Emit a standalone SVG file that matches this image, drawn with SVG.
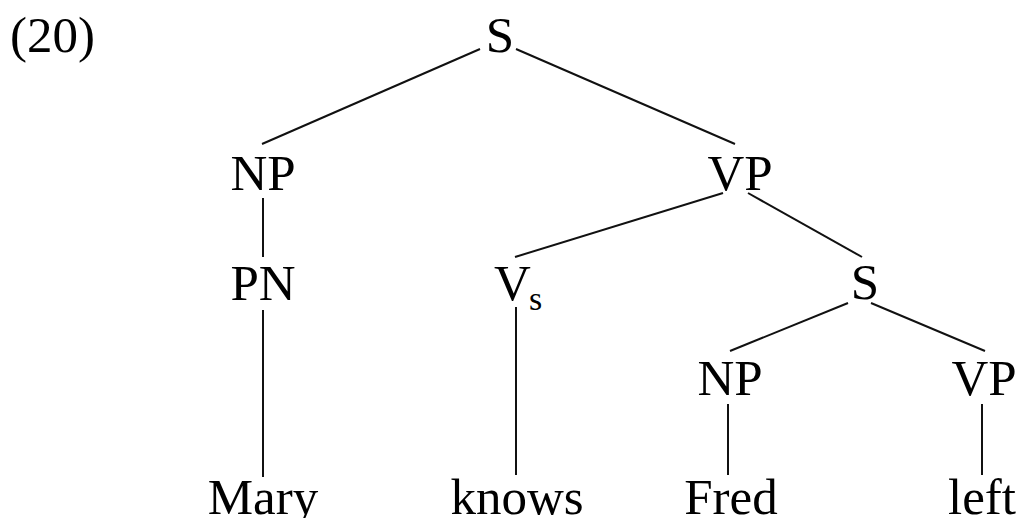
<svg xmlns="http://www.w3.org/2000/svg" width="1019" height="518" viewBox="0 0 1019 518">
<style>
text{font-family:"Liberation Serif","Times New Roman",serif;font-size:51px;fill:#000;text-anchor:middle}
.sub{font-size:34px}
.e line{stroke:#111;stroke-width:2;stroke-linecap:butt}
</style>
<rect width="1019" height="518" fill="#fff"/>
<g class="e" id="connectors">
<line x1="480" y1="49" x2="262" y2="144"/>
<line x1="516" y1="49" x2="735" y2="144"/>
<line x1="263" y1="198" x2="263" y2="257"/>
<line x1="263" y1="310" x2="263" y2="477"/>
<line x1="723" y1="193" x2="515" y2="257"/>
<line x1="748" y1="193" x2="862" y2="257"/>
<line x1="516" y1="307" x2="516" y2="475"/>
<line x1="848" y1="303" x2="730" y2="351"/>
<line x1="871" y1="303" x2="985" y2="351"/>
<line x1="728" y1="404" x2="728" y2="475"/>
<line x1="982" y1="404" x2="982" y2="475"/>
</g>
<g id="label20"><text x="10" y="52" style="text-anchor:start">(20)</text></g>
<g id="S1"><text x="500" y="52">S</text></g>
<g id="NP1"><text x="263" y="190">NP</text></g>
<g id="VP1"><text x="740" y="190">VP</text></g>
<g id="PN"><text x="263" y="300">PN</text></g>
<g id="Vs"><text x="494" y="300" style="text-anchor:start">V</text><text class="sub" x="529" y="310" style="text-anchor:start">s</text></g>
<g id="S2"><text x="865" y="299">S</text></g>
<g id="NP2"><text x="730" y="395">NP</text></g>
<g id="VP2"><text x="984" y="395">VP</text></g>
<g id="Mary"><text x="263" y="514">Mary</text></g>
<g id="knows"><text x="517" y="514">knows</text></g>
<g id="Fred"><text x="731" y="514">Fred</text></g>
<g id="left"><text x="982" y="514">left</text></g>
</svg>
